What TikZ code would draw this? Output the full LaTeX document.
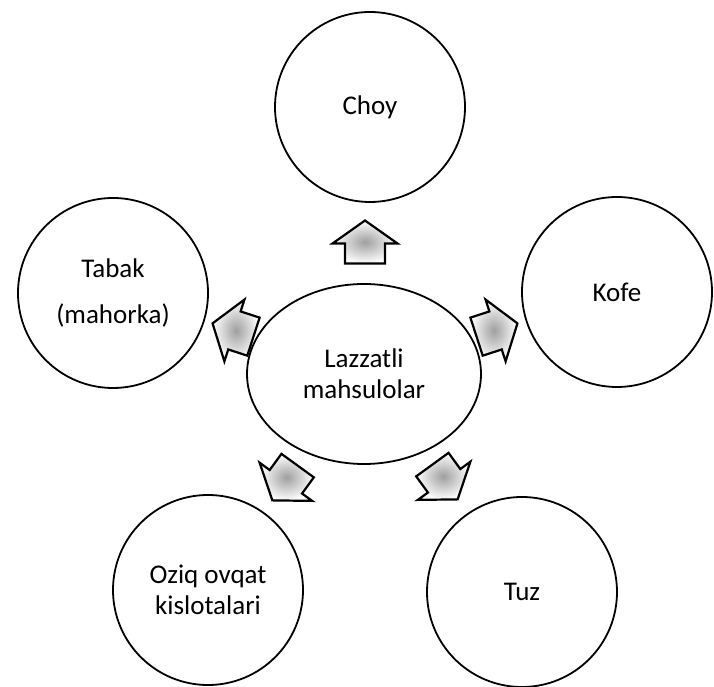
\documentclass[tikz,border=0pt]{standalone}
\usepackage{fontspec}
\setmainfont{Carlito}
\usetikzlibrary{shapes.geometric}
\tikzset{
  circ/.style={circle, draw=black, line width=1.8pt, minimum size=190pt, inner sep=0pt,
    align=center, font=\fontsize{27}{31}\selectfont},
  centre/.style={ellipse, draw=black, line width=1.8pt, minimum width=234pt, minimum height=180pt,
    inner sep=0pt, align=center, font=\fontsize{27}{31}\selectfont},
  blockarrow/.pic={
    \shadedraw[inner color=gray!75, outer color=white, draw=black, line width=2.2pt, line join=miter]
      (-21.5,-20) -- (-1.5,-20) -- (-1.5,-32.5) -- (21.5,0) -- (-1.5,32.5) -- (-1.5,20) -- (-21.5,20) -- cycle;
  }
}
\begin{document}
\begin{tikzpicture}[x=1pt,y=1pt]
\useasboundingbox (0,0) rectangle (714,687);
\node[centre] (lz) at (364,313) {Lazzatli\\mahsulolar};
\node[circ] (choy) at (370,580) {Choy};
\node[circ] (tabak) at (113,394) {Tabak\\[15pt](mahorka)};
\node[circ] (kofe) at (617,395) {Kofe};
\node[circ] (oziq) at (208,97) {Oziq ovqat\\kislotalari};
\node[circ] (tuz) at (522,95) {Tuz};
\pic[rotate=90] (a1) at (365,445) {blockarrow};
\pic[rotate=162] (a2) at (233,357) {blockarrow};
\pic[rotate=18] (a3) at (497,357) {blockarrow};
\pic[rotate=234] (a4) at (285,204) {blockarrow};
\pic[rotate=306] (a5) at (445,205) {blockarrow};
\end{tikzpicture}
\end{document}
